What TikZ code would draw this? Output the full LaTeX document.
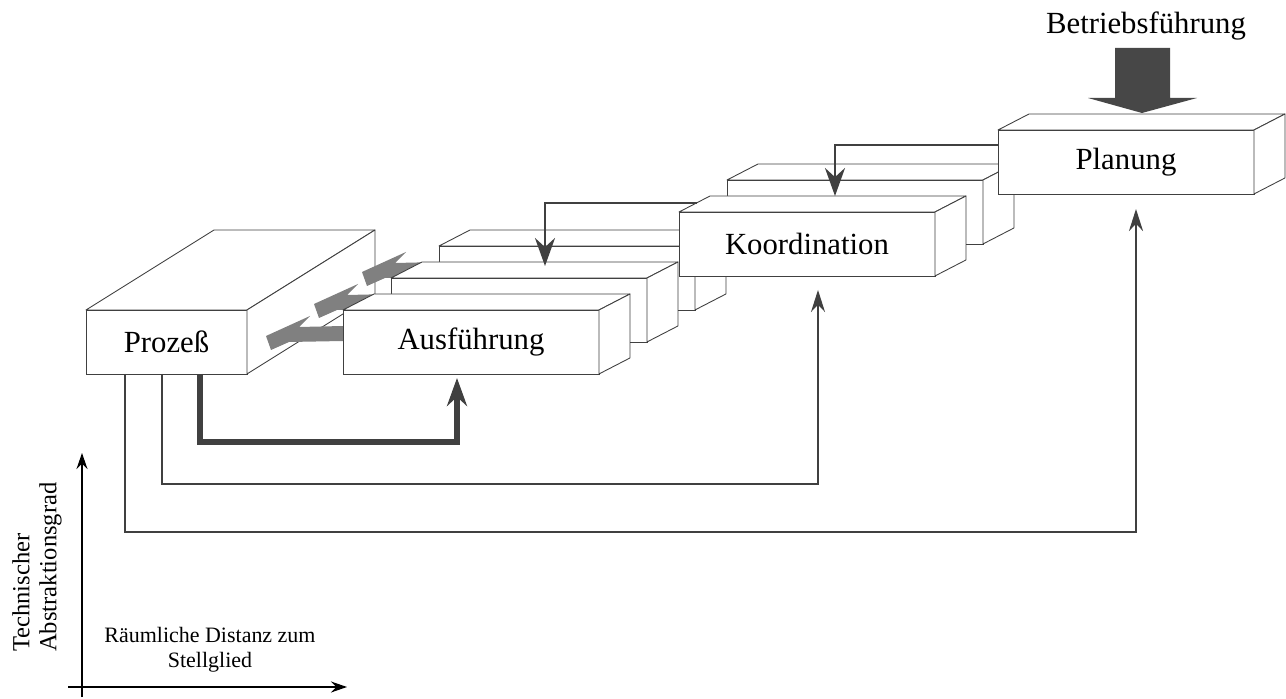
\documentclass[tikz,border=0pt]{standalone}
\usepackage{fontspec}
\setmainfont{Liberation Serif}
\usetikzlibrary{arrows.meta}

\begin{document}
\begin{tikzpicture}[
  x=0.02cm, y=-0.02cm,
  >=Stealth,
  box/.style={draw=black!75,line width=0.5pt,fill=white,anchor=north west,
    minimum width=5.12cm,minimum height=1.28cm,inner sep=0pt,outer sep=0pt,
    font=\fontsize{17.5}{21}\selectfont},
  face/.style={draw=black!75,line width=0.5pt,fill=white,line join=round},
  link/.style={draw=black!75,line width=1.5pt,-{Stealth[length=5.6mm,width=4mm]}},
  biglink/.style={link,line width=3.6pt},
  smalllink/.style={link,-{Stealth[length=4.4mm,width=2.8mm]}},
  greyarrow/.style={fill=black!50},
  axis/.style={line width=0.8pt,-{Stealth[length=3.2mm,width=2.2mm]}},
  lbl/.style={font=\fontsize{12.5}{14.2}\selectfont,align=center}
]
\useasboundingbox (0,0) rectangle (1286,699);

\node[box,minimum width=3.22cm] (proz) at (86,310) {Prozeß};
\filldraw[face] (proz.north west) -- ++(128,-80) -- ([shift={(128,-80)}]proz.north east) -- (proz.north east) -- cycle;
\filldraw[face] (proz.north east) -- ++(128,-80) -- ([shift={(128,-80)}]proz.south east) -- (proz.south east) -- cycle;

\foreach \i in {2,1,0}
  \fill[greyarrow,shift={(48*\i,-32*\i)}] (266,336) -- (310,316) -- (299,327) -- (343,326)
    -- (343,341) -- (289,342) -- (271,350) -- cycle;

\foreach \n/\px/\py/\txt in {a3/439/246/{},a2/391/278/{},a1/343/310/Ausführung,
    k2/727/180/{},k1/679/212/Koordination,plan/998/130/Planung}{
  \node[box] (\n) at (\px,\py) {\txt};
  \filldraw[face] (\n.north west) -- ++(31,-16) -- ([shift={(31,-16)}]\n.north east) -- (\n.north east) -- cycle;
  \filldraw[face] (\n.north east) -- ++(31,-16) -- ([shift={(31,-16)}]\n.south east) -- (\n.south east) -- cycle;
}

\node[font=\fontsize{17.5}{21}\selectfont] (betr) at (1146,26) {Betriebsführung};
\fill[black!72] ([shift={(144,-17)}]plan.north west) -- ++(-54,-15) -- ++(27,0) -- ++(0,-50)
  -- ++(55,0) -- ++(0,50) -- ++(27,0) -- cycle;

\draw[biglink] ([shift={(114,0)}]proz.south west) -- ++(0,68) -| ([shift={(114,4)}]a1.south west);
\draw[smalllink,line width=0.9pt] ([shift={(76,0)}]proz.south west) -- ++(0,110) -| ([shift={(139,14)}]k1.south west);
\draw[smalllink] ([shift={(39,0)}]proz.south west) -- ++(0,158) -| ([shift={(138,15)}]plan.south west);
\draw[link] ([shift={(0,15)}]plan.north west) -| ([shift={(156,-16)}]k1.north west);
\draw[link] ([shift={(18,-9)}]k1.north west) -| ([shift={(154,-12)}]a2.north west);

\coordinate (ybot) at (82,697);
\coordinate (ytop) at (82,453);
\coordinate (xleft) at (68,687);
\coordinate (xright) at (347,687);
\draw[axis] (ybot) -- (ytop);
\draw[axis] (xleft) -- (xright);
\node[rotate=90,align=left,anchor=west,font=\fontsize{14}{15.3}\selectfont] (ylab) at (37,658)
  {Technischer\\Abstraktionsgrad};
\node[lbl] (xlab) at (210,650) {Räumliche Distanz zum\\Stellglied};
\end{tikzpicture}
\end{document}
